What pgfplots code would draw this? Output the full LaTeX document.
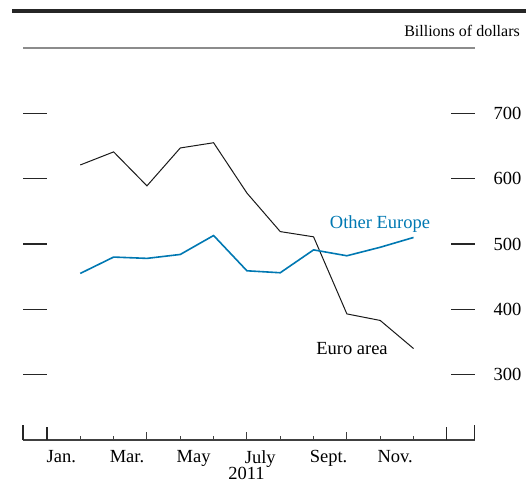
\documentclass[border=0pt]{standalone}
\usepackage{pgfplots}
\pgfplotsset{compat=1.18}
\usepackage{fontspec}
\setmainfont{Liberation Serif}
\definecolor{otherblue}{RGB}{0,120,178}

% end-of-month levels, Jan.-Nov. 2011 (x = 1 is end of Jan.)
\pgfplotstableread{
m  val
1  621
2  641
3  589
4  647
5  655
6  578
7  519
8  511
9  393
10 383
11 340
}\euroarea
\pgfplotstableread{
m  val
1  455
2  480
3  478
4  484
5  513
6  459
7  456
8  491
9  482
10 495
11 510
}\othereurope

\begin{document}
\begin{tikzpicture}
\path[use as bounding box] (0pt,0pt) rectangle (526pt,479pt);
\draw[line width=3.4pt, black!85] (12pt,468pt) -- (526pt,468pt);
\node[anchor=base east, inner sep=0pt, font=\fontsize{16}{18}\selectfont] at (520pt,442pt) {Billions of dollars};

\begin{axis}[
    at={(23pt,39pt)}, anchor=south west,
    scale only axis,
    width=451.5pt, height=392pt,
    xmin=-0.72, xmax=12.83,
    ymin=200, ymax=800,
    axis line style={draw=none},
    xtick={0.43,2.4,4.4,6.4,8.45,10.45},
    xticklabels={Jan.,Mar.,May,July,Sept.,Nov.},
    xtick style={draw=none},
    xticklabel style={yshift=-7pt},
    ytick={300,400,500,600,700},
    ytick pos=both,
    yticklabel pos=right,
    tick align=inside,
    major tick length=24pt,
    ytick style={black!85, line width=1.1pt},
    yticklabel style={anchor=west, inner sep=0pt, xshift=19pt},
    tick label style={font=\fontsize{18.5}{20}\selectfont},
    /pgf/number format/assume math mode=true,
    clip=false,
]
\draw[black!45, line width=1.4pt] (rel axis cs:0,1) -- (rel axis cs:1,1);
\draw[black!75, line width=1.1pt] (rel axis cs:0,0) -- (rel axis cs:1,0);
% bottom ticks: month, quarter, year, frame edges
\pgfplotsinvokeforeach{1,2,4,5,7,8,10,11}{
  \draw[black!75, line width=1pt] (axis cs:#1,200) -- ++(0pt,4.5pt);
}
\pgfplotsinvokeforeach{3,6,9}{
  \draw[black!75, line width=1pt] (axis cs:#1,200) -- ++(0pt,8pt);
}
\pgfplotsinvokeforeach{0,12}{
  \draw[black!85, line width=1.1pt] (axis cs:#1,200) -- ++(0pt,13pt);
}
\draw[black!85, line width=1.1pt] (rel axis cs:0,0) -- ++(0pt,15pt);
\draw[black!85, line width=1.1pt] (rel axis cs:1,0) -- ++(0pt,15pt);

\addplot[black!90, line width=1pt] table[x=m, y=val] {\euroarea};
\addplot[otherblue, line width=1.6pt] table[x=m, y=val] {\othereurope};
\end{axis}

\node[font=\fontsize{18.5}{20}\selectfont, text=otherblue] at (380pt,255pt) {Other Europe};
\node[font=\fontsize{18.5}{20}\selectfont] at (352pt,130pt) {Euro area};
\node[anchor=north, inner sep=0pt, font=\fontsize{18.5}{20}\selectfont] at (246.5pt,12pt) {2011};
\end{tikzpicture}
\end{document}
